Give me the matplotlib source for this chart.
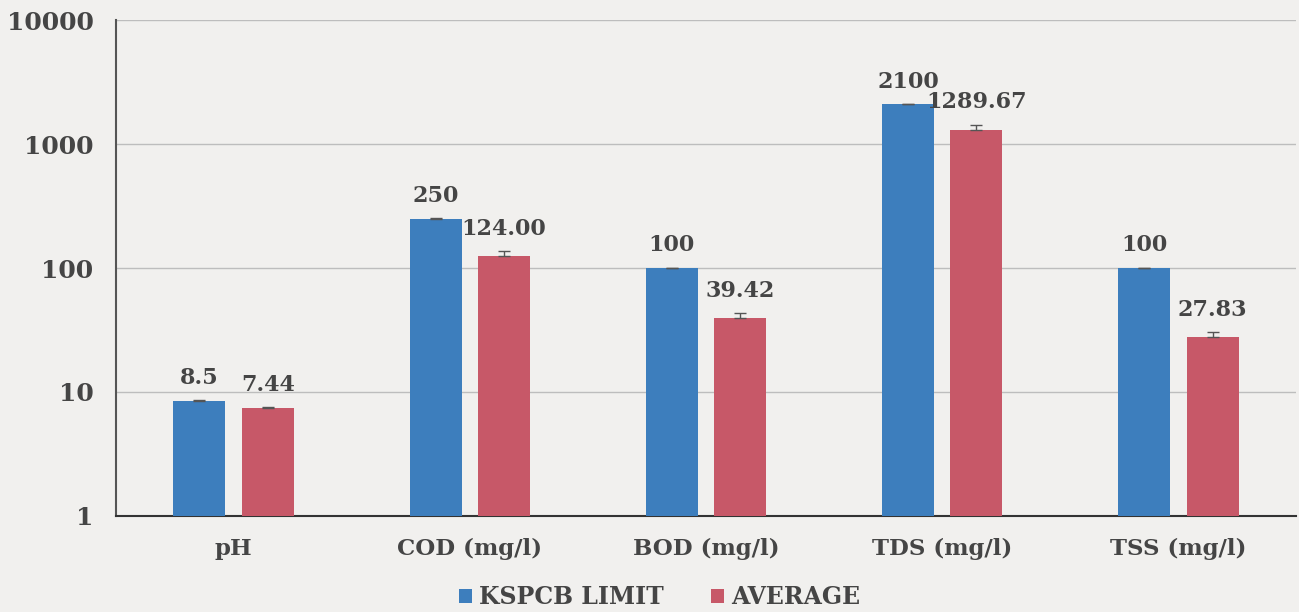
import numpy as np
import matplotlib.pyplot as plt

# 数据
categories = ['pH', 'COD (mg/l)', 'BOD (mg/l)', 'TDS (mg/l)', 'TSS (mg/l)']
limit_vals = [8.5, 250, 100, 2100, 100]
limit_labels = ['8.5', '250', '100', '2100', '100']
avg_vals = [7.44, 124.00, 39.42, 1289.67, 27.83]
avg_labels = ['7.44', '124.00', '39.42', '1289.67', '27.83']
limit_err = [0.08, 2.5, 1.0, 20, 1.0]
avg_err = [0.08, 14, 4, 150, 2.8]

blue = '#3d7ebd'
red = '#c75868'
txt = '#454545'
bg = '#f1f0ee'

plt.rcParams['font.family'] = ['DejaVu Serif']
plt.rcParams['font.weight'] = 'bold'

fig = plt.figure(figsize=(12.99, 6.12), dpi=100, facecolor=bg)
ax = fig.add_axes([0.089, 0.157, 0.909, 0.81], facecolor=bg)

x = np.arange(len(categories))
w = 0.22
off = 0.145
ekw = dict(ecolor='#555555', elinewidth=1, capthick=1)
# 只画向上的误差线
b1 = ax.bar(x - off, limit_vals, w, color=blue, yerr=[np.zeros(5), limit_err], capsize=4,
            error_kw=ekw, label='KSPCB LIMIT', zorder=3)
b2 = ax.bar(x + off, avg_vals, w, color=red, yerr=[np.zeros(5), avg_err], capsize=4,
            error_kw=ekw, label='AVERAGE', zorder=3)

ax.set_yscale('log')
ax.set_ylim(1, 10000)
ax.set_xlim(-0.5, len(categories) - 0.5)
ax.set_yticks([1, 10, 100, 1000, 10000])
ax.set_yticklabels(['1', '10', '100', '1000', '10000'])
ax.minorticks_off()
ax.set_xticks(x)
ax.set_xticklabels(categories)
ax.tick_params(axis='both', length=0, colors=txt)
ax.tick_params(axis='x', pad=16, labelsize=16.5)
ax.tick_params(axis='y', pad=16, labelsize=18)
for lab in ax.get_xticklabels() + ax.get_yticklabels():
    lab.set_fontweight('bold')

ax.grid(axis='y', color='#bdbdbd', linewidth=1, zorder=0)
for s in ['top', 'right']:
    ax.spines[s].set_visible(False)
ax.spines['left'].set_color('#555555')
ax.spines['bottom'].set_color('#333333')
ax.spines['left'].set_linewidth(1.5)
ax.spines['bottom'].set_linewidth(1.5)

# 数值标签
for i in range(len(categories)):
    ax.annotate(limit_labels[i], (x[i] - off, limit_vals[i] + limit_err[i]), xytext=(0, 8),
                textcoords='offset points', ha='center', va='bottom', fontsize=16,
                color=txt, fontweight='bold')
    ax.annotate(avg_labels[i], (x[i] + off, avg_vals[i] + avg_err[i]), xytext=(0, 8),
                textcoords='offset points', ha='center', va='bottom', fontsize=16,
                color=txt, fontweight='bold')

leg = fig.legend(handles=[b1, b2], loc='lower center', bbox_to_anchor=(0.508, -0.03), ncol=2,
                 frameon=False, fontsize=17, handlelength=0.55, handleheight=0.55,
                 handletextpad=0.3, columnspacing=2.0)
for t in leg.get_texts():
    t.set_color(txt)
    t.set_fontweight('bold')

plt.savefig('out.png', dpi=100, facecolor=bg)
